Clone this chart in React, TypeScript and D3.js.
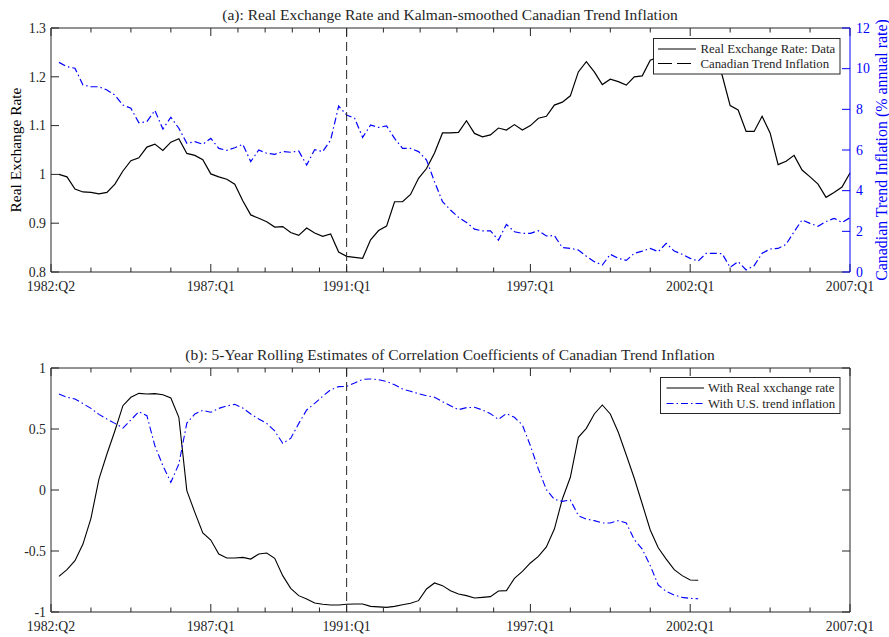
import React, { useEffect, useRef } from 'react';
import * as d3 from 'd3';

// quarterly real exchange rate, 1982:Q3 .. 2007:Q1 (axis index 1..100)
const rerData = [
  1.0, 0.995, 0.97, 0.964, 0.963, 0.96, 0.963, 0.98, 1.007, 1.028,
  1.034, 1.056, 1.062, 1.049, 1.066, 1.073, 1.043, 1.039, 1.03, 1.001,
  0.995, 0.99, 0.98, 0.946, 0.917, 0.91, 0.903, 0.892, 0.893, 0.881,
  0.875, 0.89, 0.88, 0.873, 0.878, 0.841, 0.832, 0.83, 0.828, 0.866,
  0.885, 0.894, 0.944, 0.944, 0.959, 0.992, 1.012, 1.044, 1.085, 1.085,
  1.086, 1.11, 1.084, 1.077, 1.081, 1.095, 1.091, 1.102, 1.091, 1.1,
  1.115, 1.119, 1.142, 1.148, 1.161, 1.21, 1.231, 1.21, 1.184, 1.195,
  1.19, 1.183, 1.2, 1.202, 1.234, 1.24, 1.25, 1.245, 1.255, 1.26,
  1.25, 1.255, 1.235, 1.203, 1.141, 1.132, 1.088, 1.088, 1.119, 1.085,
  1.02, 1.027, 1.039, 1.009, 0.995, 0.98, 0.953, 0.963, 0.974, 1.003,
];

// Kalman-smoothed Canadian trend inflation (% annual rate)
const trendInfl = [
  10.31, 10.1, 10.02, 9.2, 9.11, 9.11, 8.95, 8.7, 8.21, 8.05,
  7.34, 7.39, 7.95, 7.03, 7.61, 7.07, 6.33, 6.41, 6.28, 6.57,
  6.08, 5.98, 6.11, 6.28, 5.43, 6.0, 5.84, 5.79, 5.92, 5.89,
  5.95, 5.26, 6.02, 5.92, 6.49, 8.16, 7.72, 7.56, 6.62, 7.23,
  7.11, 7.18, 6.57, 6.08, 6.08, 5.92, 5.51, 4.44, 3.46, 3.05,
  2.69, 2.44, 2.11, 2.02, 2.02, 1.57, 2.34, 1.98, 1.9, 1.9,
  2.03, 1.77, 1.79, 1.2, 1.16, 1.08, 0.78, 0.51, 0.34, 0.87,
  0.67, 0.57, 0.92, 1.03, 1.16, 1.0, 1.41, 1.03, 0.87, 0.67,
  0.54, 0.92, 0.92, 0.9, 0.23, 0.51, 0.1, 0.31, 0.92, 1.13,
  1.16, 1.36, 1.98, 2.56, 2.39, 2.25, 2.48, 2.64, 2.44, 2.67,
];

// 5-year rolling correlations
const corrRer = [
  -0.708, -0.653, -0.579, -0.443, -0.232, 0.09, 0.295, 0.486, 0.691, 0.76,
  0.792, 0.787, 0.79, 0.781, 0.754, 0.596, -0.005, -0.183, -0.352, -0.41,
  -0.525, -0.557, -0.557, -0.552, -0.566, -0.525, -0.516, -0.56, -0.702, -0.806,
  -0.866, -0.893, -0.926, -0.937, -0.943, -0.943, -0.937, -0.934, -0.934, -0.954,
  -0.958, -0.962, -0.954, -0.94, -0.929, -0.907, -0.811, -0.762, -0.784, -0.825,
  -0.852, -0.866, -0.885, -0.88, -0.874, -0.828, -0.825, -0.724, -0.667, -0.598,
  -0.544, -0.467, -0.32, -0.074, 0.104, 0.432, 0.505, 0.623, 0.697, 0.623,
  0.473, 0.287, 0.096, -0.115, -0.328, -0.473, -0.566, -0.653, -0.702, -0.738,
  -0.74,
];

const corrUS = [
  0.787, 0.76, 0.746, 0.708, 0.669, 0.62, 0.582, 0.546, 0.508, 0.574,
  0.642, 0.609, 0.363, 0.2, 0.063, 0.213, 0.549, 0.623, 0.653, 0.637,
  0.669, 0.689, 0.702, 0.672, 0.623, 0.582, 0.546, 0.484, 0.383, 0.423,
  0.544, 0.656, 0.71, 0.768, 0.822, 0.847, 0.85, 0.877, 0.907, 0.91,
  0.904, 0.89, 0.863, 0.828, 0.809, 0.79, 0.773, 0.76, 0.724, 0.691,
  0.658, 0.675, 0.678, 0.656, 0.626, 0.579, 0.626, 0.596, 0.533, 0.363,
  0.172, 0.003, -0.077, -0.093, -0.082, -0.21, -0.238, -0.251, -0.27, -0.27,
  -0.251, -0.27, -0.407, -0.484, -0.62, -0.779, -0.831, -0.861, -0.88, -0.888,
  -0.891,
];

const xTicks = [0, 5, 10, 15, 20, 23.4, 26.8, 30.2, 33.6, 37, 41.6, 46.2, 50.8, 55.4, 60, 65, 70, 75, 80, 85, 90, 95, 100];
const xLabelPos = [0, 20, 37, 60, 80, 100];
const xLabels = ['1982:Q2', '1987:Q1', '1991:Q1', '1997:Q1', '2002:Q1', '2007:Q1'];
const breakPos = 37; // 1991:Q1

const rerTicks = [0.8, 0.9, 1.0, 1.1, 1.2, 1.3];
const rerTickLabels = ['0.8', '0.9', '1', '1.1', '1.2', '1.3'];
const inflTicks = [0, 2, 4, 6, 8, 10, 12];
const corrTicks = [-1, -0.5, 0, 0.5, 1];
const corrTickLabels = ['-1', '-0.5', '0', '0.5', '1'];

const legendA = ['Real Exchange Rate: Data', 'Canadian Trend Inflation'];
const legendB = ['With Real xxchange rate', 'With U.S. trend inflation'];

const FONT = '"Liberation Serif", "Times New Roman", serif';
const BLUE = '#0000ff';
const AX = '#262626';
const DASHDOT = '7,3,1.5,3';

function App() {
  const ref = useRef<SVGSVGElement>(null);

  useEffect(() => {
    const svg = d3.select(ref.current);
    svg.selectAll('*').remove();

    const left = 51, right = 850;
    const x = d3.scaleLinear().domain([0, 100]).range([left, right]);

    const drawFrame = (g, top, bottom, rightColor) => {
      // x ticks (inward, top and bottom)
      const major = (t) => xLabelPos.includes(t);
      g.selectAll('.xt-b').data(xTicks).enter().append('line')
        .attr('x1', (d) => x(d)).attr('x2', (d) => x(d))
        .attr('y1', bottom).attr('y2', (d) => bottom - (major(d) ? 8 : 4.5))
        .attr('stroke', AX).attr('stroke-width', 1);
      g.selectAll('.xt-t').data(xTicks).enter().append('line')
        .attr('x1', (d) => x(d)).attr('x2', (d) => x(d))
        .attr('y1', top).attr('y2', (d) => top + (major(d) ? 8 : 4.5))
        .attr('stroke', AX).attr('stroke-width', 1);
      g.append('line').attr('x1', left).attr('x2', right).attr('y1', top).attr('y2', top)
        .attr('stroke', AX);
      g.append('line').attr('x1', left).attr('x2', right).attr('y1', bottom).attr('y2', bottom)
        .attr('stroke', AX);
      g.append('line').attr('x1', left).attr('x2', left).attr('y1', top).attr('y2', bottom)
        .attr('stroke', AX);
      g.append('line').attr('x1', right).attr('x2', right).attr('y1', top).attr('y2', bottom)
        .attr('stroke', rightColor);
      g.selectAll('.xl').data(xLabelPos).enter().append('text')
        .attr('x', (d) => x(d)).attr('y', bottom + 19)
        .attr('text-anchor', 'middle')
        .attr('font-family', FONT).attr('font-size', 13.8).attr('fill', AX)
        .text((d, i) => xLabels[i]);
      // vertical break line
      g.append('line').attr('x1', x(breakPos)).attr('x2', x(breakPos))
        .attr('y1', top).attr('y2', bottom)
        .attr('stroke', AX).attr('stroke-width', 1).attr('stroke-dasharray', '9,5');
    };

    const yTickSet = (g, scale, ticks, labels, side, color) => {
      const x0 = side === 'left' ? left : right;
      const dir = side === 'left' ? 1 : -1;
      g.selectAll(null).data(ticks).enter().append('line')
        .attr('x1', x0).attr('x2', x0 + dir * 8)
        .attr('y1', (d) => scale(d)).attr('y2', (d) => scale(d))
        .attr('stroke', color);
      if (labels) {
        g.selectAll(null).data(ticks).enter().append('text')
          .attr('x', side === 'left' ? left - 5 : right + 6)
          .attr('y', (d) => scale(d)).attr('dy', '0.35em')
          .attr('text-anchor', side === 'left' ? 'end' : 'start')
          .attr('font-family', FONT).attr('font-size', 13.8).attr('fill', color)
          .text((d, i) => labels[i]);
      }
    };

    // ---------- panel (a)
    const topA = 28, botA = 272;
    const yA = d3.scaleLinear().domain([0.8, 1.3]).range([botA, topA]);
    const yA2 = d3.scaleLinear().domain([0, 12]).range([botA, topA]);
    const gA = svg.append('g');

    gA.append('path').datum(rerData)
      .attr('d', d3.line<number>().x((d, i) => x(i + 1)).y((d) => yA(d)))
      .attr('fill', 'none').attr('stroke', '#000').attr('stroke-width', 1.2);
    gA.append('path').datum(trendInfl)
      .attr('d', d3.line<number>().x((d, i) => x(i + 1)).y((d) => yA2(d)))
      .attr('fill', 'none').attr('stroke', BLUE).attr('stroke-width', 1.2)
      .attr('stroke-dasharray', DASHDOT);

    drawFrame(gA, topA, botA, BLUE);
    yTickSet(gA, yA, rerTicks, rerTickLabels, 'left', AX);
    yTickSet(gA, yA2, inflTicks, inflTicks.map(String), 'right', BLUE);

    gA.append('text').attr('x', 450).attr('y', 20).attr('text-anchor', 'middle')
      .attr('font-family', FONT).attr('font-size', 15.5).attr('fill', AX)
      .text('(a): Real Exchange Rate and Kalman-smoothed Canadian Trend Inflation');
    gA.append('text').attr('transform', 'translate(21,150) rotate(-90)')
      .attr('text-anchor', 'middle')
      .attr('font-family', FONT).attr('font-size', 15.4).attr('fill', '#000')
      .text('Real Exchange Rate');
    gA.append('text').attr('transform', 'translate(887,150) rotate(-90)')
      .attr('text-anchor', 'middle')
      .attr('font-family', FONT).attr('font-size', 15.9).attr('fill', BLUE)
      .text('Canadian Trend Inflation (% annual rate)');

    // legend (a)
    const lgA = gA.append('g');
    lgA.append('rect').attr('x', 653.5).attr('y', 38.5).attr('width', 186.5).attr('height', 35.5)
      .attr('fill', '#fff').attr('stroke', AX);
    const rowsA = [49, 63.5];
    lgA.selectAll(null).data(legendA).enter().append('line')
      .attr('x1', 658).attr('x2', 696)
      .attr('y1', (d, i) => rowsA[i]).attr('y2', (d, i) => rowsA[i])
      .attr('stroke', '#000').attr('stroke-width', 1.2)
      .attr('stroke-dasharray', (d, i) => (i === 1 ? '14,5' : null));
    lgA.selectAll(null).data(legendA).enter().append('text')
      .attr('x', 700.5).attr('y', (d, i) => rowsA[i]).attr('dy', '0.35em')
      .attr('font-family', FONT).attr('font-size', 12.8).attr('fill', AX)
      .text((d) => d);

    // ---------- panel (b)
    const topB = 368, botB = 612;
    const yB = d3.scaleLinear().domain([-1, 1]).range([botB, topB]);
    const gB = svg.append('g');

    gB.append('path').datum(corrRer)
      .attr('d', d3.line<number>().x((d, i) => x(i + 1)).y((d) => yB(d)))
      .attr('fill', 'none').attr('stroke', '#000').attr('stroke-width', 1.1);
    gB.append('path').datum(corrUS)
      .attr('d', d3.line<number>().x((d, i) => x(i + 1)).y((d) => yB(d)))
      .attr('fill', 'none').attr('stroke', BLUE).attr('stroke-width', 1.1)
      .attr('stroke-dasharray', DASHDOT);

    drawFrame(gB, topB, botB, AX);
    yTickSet(gB, yB, corrTicks, corrTickLabels, 'left', AX);
    yTickSet(gB, yB, corrTicks, null, 'right', AX);

    gB.append('text').attr('x', 450).attr('y', 360).attr('text-anchor', 'middle')
      .attr('font-family', FONT).attr('font-size', 15.5).attr('fill', AX)
      .text('(b): 5-Year Rolling Estimates of Correlation Coefficients of Canadian Trend Inflation');

    const lgB = gB.append('g');
    lgB.append('rect').attr('x', 660.5).attr('y', 377.5).attr('width', 179.5).attr('height', 36)
      .attr('fill', '#fff').attr('stroke', AX);
    const rowsB = [388, 403.5];
    lgB.selectAll(null).data(legendB).enter().append('line')
      .attr('x1', 666.5).attr('x2', 704)
      .attr('y1', (d, i) => rowsB[i]).attr('y2', (d, i) => rowsB[i])
      .attr('stroke', (d, i) => (i === 1 ? BLUE : '#000')).attr('stroke-width', 1.1)
      .attr('stroke-dasharray', (d, i) => (i === 1 ? DASHDOT : null));
    lgB.selectAll(null).data(legendB).enter().append('text')
      .attr('x', 708).attr('y', (d, i) => rowsB[i]).attr('dy', '0.35em')
      .attr('font-family', FONT).attr('font-size', 12.8).attr('fill', AX)
      .text((d) => d);
  }, []);

  return (
    <svg ref={ref} width={889} height={637}
      style={{ position: 'absolute', left: 0, top: 0, background: '#fff' }} />
  );
}

export default App;
